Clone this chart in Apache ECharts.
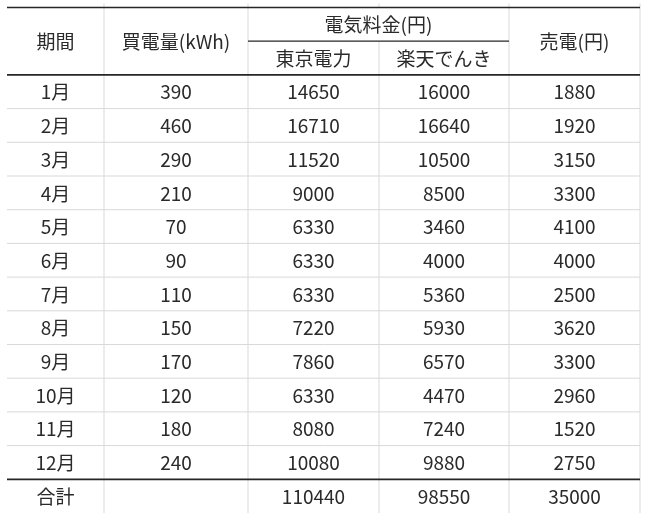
<!DOCTYPE html>
<html>
<head>
<meta charset="utf-8">
<script src="https://cdn.jsdelivr.net/npm/echarts@6/dist/echarts.min.js"></script>
<style>
html,body{margin:0;padding:0;background:#fff;}
#chart{width:646px;height:517px;}
</style>
</head>
<body>
<div id="chart"></div>
<script>
// ---- data ----
const headerTop = ['期間', '買電量(kWh)', '電気料金(円)', '売電(円)'];
const headerSub = ['東京電力', '楽天でんき'];
const months = ['1月','2月','3月','4月','5月','6月','7月','8月','9月','10月','11月','12月'];
const kwh = [390, 460, 290, 210, 70, 90, 110, 150, 170, 120, 180, 240];
const tepco = [14650, 16710, 11520, 9000, 6330, 6330, 6330, 7220, 7860, 6330, 8080, 10080];
const rakuten = [16000, 16640, 10500, 8500, 3460, 4000, 5360, 5930, 6570, 4470, 7240, 9880];
const sell = [1880, 1920, 3150, 3300, 4100, 4000, 2500, 3620, 3300, 2960, 1520, 2750];
const totalLabel = '合計';
const totalKwh = '';
const totalTepco = 110440;
const totalRakuten = 98550;
const totalSell = 35000;

// ---- layout (axis units) ----
const colEdges = [0, 97, 241, 372, 502, 633];
const ROWS = 15;
const FONT = '19px "Noto Sans CJK JP", "Noto Sans", sans-serif';
const TEXT_COLOR = '#2a2a2a';
const DARK = '#262626';
const LIGHT = '#d9d9d9';

// cells: [x0, x1, y0, y1] + text
const cells = [];
function addCell(c0, c1, r0, r1, text) {
  cells.push({ value: [colEdges[c0], colEdges[c1], r0, r1], text: String(text) });
}
addCell(0, 1, 0, 2, headerTop[0]);
addCell(1, 2, 0, 2, headerTop[1]);
addCell(2, 4, 0, 1, headerTop[2]);
addCell(4, 5, 0, 2, headerTop[3]);
addCell(2, 3, 1, 2, headerSub[0]);
addCell(3, 4, 1, 2, headerSub[1]);
months.forEach((m, i) => {
  const r = 2 + i;
  addCell(0, 1, r, r + 1, m);
  addCell(1, 2, r, r + 1, kwh[i]);
  addCell(2, 3, r, r + 1, tepco[i]);
  addCell(3, 4, r, r + 1, rakuten[i]);
  addCell(4, 5, r, r + 1, sell[i]);
});
addCell(0, 1, 14, 15, totalLabel);
addCell(1, 2, 14, 15, totalKwh);
addCell(2, 3, 14, 15, totalTepco);
addCell(3, 4, 14, 15, totalRakuten);
addCell(4, 5, 14, 15, totalSell);

// rules: [x1, y1, x2, y2], color, width
const rules = [];
function addRule(x1, y1, x2, y2, color, width) {
  rules.push({ value: [x1, y1, x2, y2], color: color, width: width });
}
// vertical gridlines
[1, 2, 4, 5].forEach(c => addRule(colEdges[c], -0.12, colEdges[c], ROWS, LIGHT, 1));
addRule(colEdges[3], -0.12, colEdges[3], 0, LIGHT, 1);
addRule(colEdges[3], 1, colEdges[3], ROWS, LIGHT, 1);
// horizontal light row separators
for (let r = 3; r < 14; r++) addRule(colEdges[0], r, colEdges[5], r, LIGHT, 1);
// dark rules
addRule(colEdges[0], 0, colEdges[5], 0, DARK, 1.6);
addRule(colEdges[2], 1, colEdges[4], 1, DARK, 1.2);
addRule(colEdges[0], 2, colEdges[5], 2, DARK, 1.6);
addRule(colEdges[0], 14, colEdges[5], 14, DARK, 1.8);

const chart = echarts.init(document.getElementById('chart'), null, { renderer: 'canvas' });
chart.setOption({
  backgroundColor: '#ffffff',
  animation: false,
  grid: { left: 7, right: 6, top: 7.5, height: 505.5, containLabel: false },
  xAxis: { type: 'value', min: 0, max: 633, show: false },
  yAxis: { type: 'value', min: 0, max: ROWS, inverse: true, show: false },
  series: [
    {
      type: 'custom',
      coordinateSystem: 'cartesian2d',
      silent: true,
      data: rules.map(r => r.value),
      encode: { x: [0, 2], y: [1, 3] },
      renderItem: function (params, api) {
        const r = rules[params.dataIndex];
        const p1 = api.coord([api.value(0), api.value(1)]);
        const p2 = api.coord([api.value(2), api.value(3)]);
        return {
          type: 'line',
          shape: { x1: p1[0], y1: p1[1], x2: p2[0], y2: p2[1] },
          style: { stroke: r.color, lineWidth: r.width }
        };
      }
    },
    {
      type: 'custom',
      coordinateSystem: 'cartesian2d',
      silent: true,
      data: cells.map(c => c.value),
      encode: { x: [0, 1], y: [2, 3] },
      renderItem: function (params, api) {
        const c = cells[params.dataIndex];
        const p0 = api.coord([api.value(0), api.value(2)]);
        const p1 = api.coord([api.value(1), api.value(3)]);
        return {
          type: 'text',
          style: {
            text: c.text,
            x: (p0[0] + p1[0]) / 2,
            y: (p0[1] + p1[1]) / 2 + 0.5,
            align: 'center',
            verticalAlign: 'middle',
            font: FONT,
            fill: TEXT_COLOR
          }
        };
      }
    }
  ]
});
</script>
</body>
</html>
